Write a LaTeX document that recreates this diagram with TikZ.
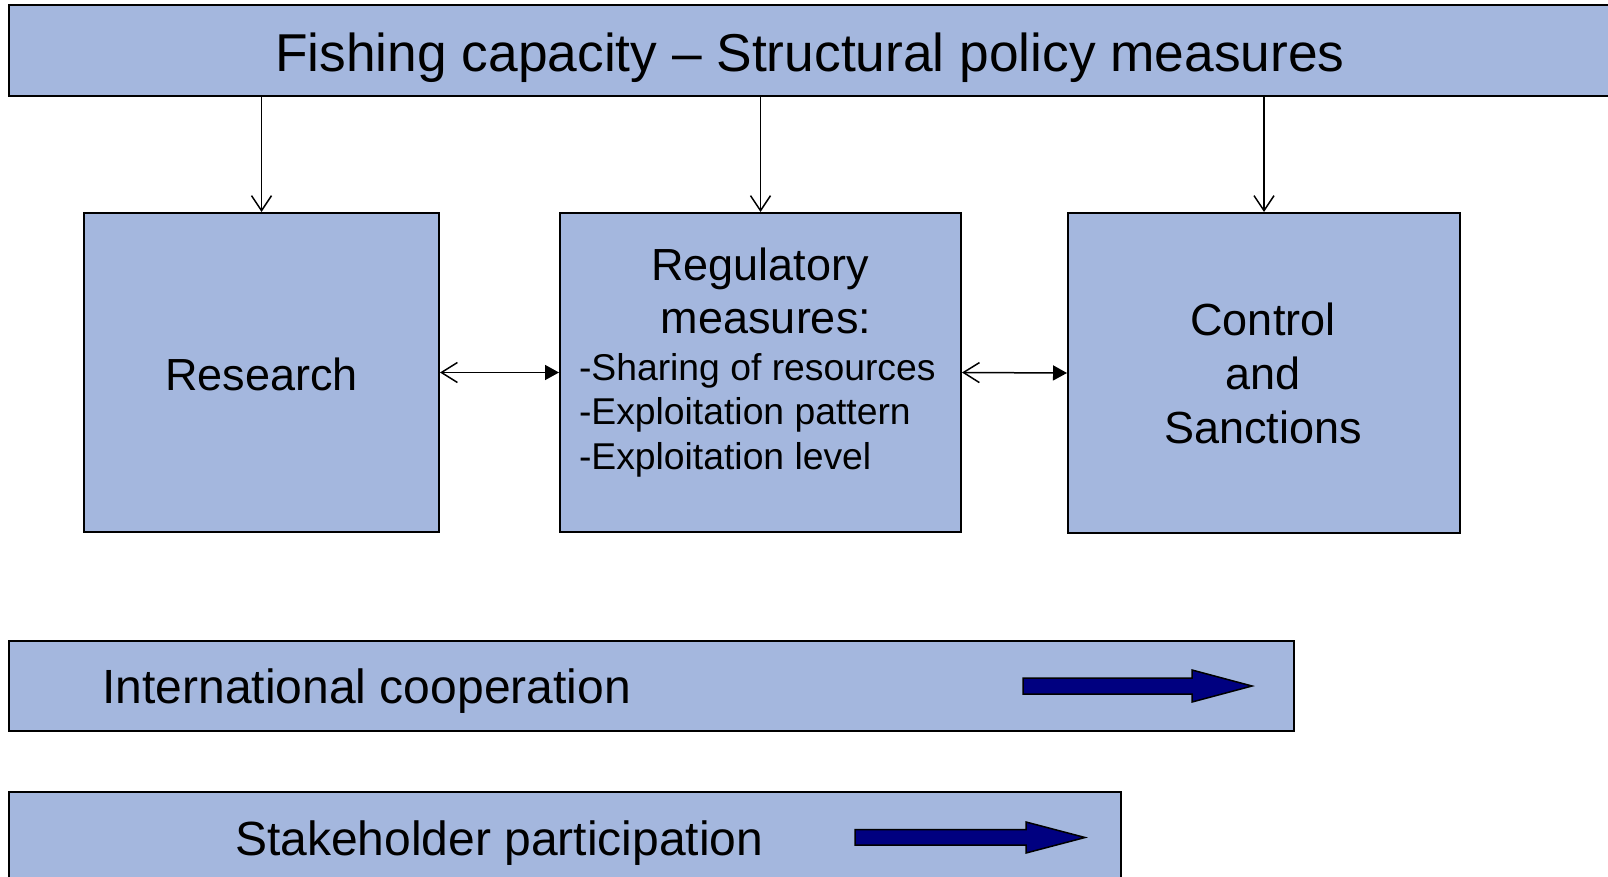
\documentclass[tikz,border=0pt]{standalone}
\usepackage{fontspec}
\setmainfont{Liberation Sans}
\usetikzlibrary{arrows.meta}
\definecolor{boxblue}{RGB}{164,183,222}
\definecolor{arrownavy}{RGB}{0,0,128}
\tikzset{
  box/.style={draw=black, line width=2pt, fill=boxblue, rectangle, inner sep=0pt},
  txt/.style={inner sep=0pt, outer sep=0pt, text=black},
  conn/.style={line width=1.5pt, draw=black},
  downarr/.style={conn, -{Straight Barb[length=15pt,width=20pt]}},
  bothend/.style={conn, {Straight Barb[length=16pt,width=20pt]}-{Triangle[length=14pt,width=15pt]}},
  bigarrow/.style={fill=arrownavy, draw=black, line width=1.5pt, line join=miter},
  fT/.style={font=\fontsize{53.3}{64}\selectfont},
  fB/.style={font=\fontsize{45}{54}\selectfont},
  fS/.style={font=\fontsize{37.3}{44}\selectfont},
  fM/.style={font=\fontsize{48}{57}\selectfont}
}
\begin{document}
\begin{tikzpicture}[x=1pt,y=-1pt]
\useasboundingbox (0,0) rectangle (1608,877);
\clip (0,0) rectangle (1608,877);
\fill[white] (0,0) rectangle (1608,877);

% boxes
\node[box, minimum width=1603pt, minimum height=91pt] (title) at (810.5,50.5) {};
\node[box, minimum width=355pt, minimum height=319pt] (research) at (261.5,372.5) {};
\node[box, minimum width=401pt, minimum height=319pt] (reg) at (760.5,372.5) {};
\node[box, minimum width=392pt, minimum height=320pt] (ctrl) at (1264,373) {};
\node[box, minimum width=1285pt, minimum height=90pt] (intl) at (651.5,686) {};
\node[box, minimum width=1112pt, minimum height=100pt] (stake) at (565,842) {};

% texts
\node[txt, fT, anchor=base] (ttitle) at (810,71.7) {Fishing capacity – Structural policy measures};
\node[txt, fB, anchor=base] (tresearch) at (261.5,390) {Research};
\node[txt, fB, anchor=base] (treg1) at (760,280) {Regulatory};
\node[txt, fB, anchor=base] (treg2) at (766,333) {measures:};
\node[txt, fS, anchor=base west] (tb1) at (579,380) {-Sharing of resources};
\node[txt, fS, anchor=base west] (tb2) at (579,424.5) {-Exploitation pattern};
\node[txt, fS, anchor=base west] (tb3) at (579,469) {-Exploitation level};
\node[txt, fB, anchor=base] (tc1) at (1263,335) {Control};
\node[txt, fB, anchor=base] (tc2) at (1263,389) {and};
\node[txt, fB, anchor=base] (tc3) at (1263,443) {Sanctions};
\node[txt, fM, anchor=base west] (tintl) at (102.5,703) {International cooperation};
\node[txt, fM, anchor=base west] (tstake) at (235,855) {Stakeholder participation};

% connectors
\draw[downarr] (title.south -| research.north) -- (research.north);
\draw[downarr] (title.south -| reg.north) -- (reg.north);
\draw[downarr] (title.south -| ctrl.north) -- (ctrl.north);
\draw[bothend] (research.east) -- (reg.west);
\draw[bothend] (reg.east) -- (ctrl.west);

% block arrows
\draw[bigarrow] (1023,678) -- (1192,678) -- (1192,670) -- (1252,686) -- (1192,702) -- (1192,694) -- (1023,694) -- cycle;
\draw[bigarrow] (855,829.5) -- (1026,829.5) -- (1026,822) -- (1085,837.5) -- (1026,853) -- (1026,845) -- (855,845) -- cycle;
\end{tikzpicture}
\end{document}
